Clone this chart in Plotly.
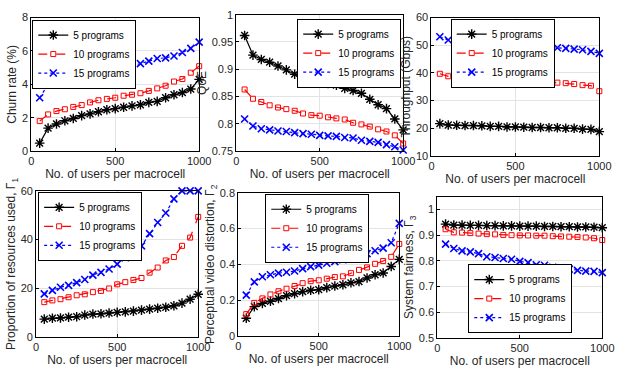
import plotly.graph_objects as go

# ---------------- data ----------------
users = [50, 100, 150, 200, 250, 300, 350, 400, 450, 500,
         550, 600, 650, 700, 750, 800, 850, 900, 950, 1000]
series_names = ["5 programs", "10 programs", "15 programs"]

churn_5 = [0.48, 1.38, 1.63, 1.82, 1.96, 2.13, 2.23, 2.36, 2.48, 2.55,
           2.63, 2.71, 2.78, 2.92, 2.98, 3.2, 3.38, 3.51, 3.72, 4.3]
churn_10 = [1.8, 2.2, 2.4, 2.51, 2.65, 2.76, 2.92, 3.05, 3.13, 3.2,
            3.32, 3.38, 3.47, 3.61, 3.76, 3.92, 4.17, 4.32, 4.7, 5.09]
churn_15 = [3.2, 3.99, 4.28, 4.4, 4.53, 4.57, 4.63, 4.74, 4.84, 4.91,
            5.05, 5.14, 5.24, 5.39, 5.55, 5.59, 5.7, 5.91, 6.16, 6.53]

qoe_5 = [0.962, 0.926, 0.918, 0.913, 0.906, 0.899, 0.891, 0.887, 0.883, 0.879,
         0.874, 0.871, 0.865, 0.861, 0.856, 0.845, 0.835, 0.828, 0.809, 0.789]
qoe_10 = [0.863, 0.846, 0.840, 0.834, 0.830, 0.827, 0.824, 0.819, 0.816, 0.815,
          0.812, 0.810, 0.808, 0.802, 0.799, 0.795, 0.790, 0.786, 0.779, 0.764]
qoe_15 = [0.809, 0.796, 0.791, 0.789, 0.787, 0.786, 0.784, 0.782, 0.781, 0.779,
          0.778, 0.777, 0.775, 0.774, 0.770, 0.768, 0.766, 0.762, 0.758, 0.752]

thr_5 = [21.7, 21.2, 21.1, 21.0, 21.0, 20.9, 20.7, 20.7, 20.5, 20.5,
         20.4, 20.3, 20.3, 20.2, 20.2, 20.0, 20.0, 19.7, 19.6, 18.8]
thr_10 = [39.7, 38.8, 38.6, 38.3, 38.1, 37.8, 37.6, 37.5, 37.4, 37.2,
          37.2, 37.0, 36.8, 36.7, 36.5, 36.3, 36.0, 35.6, 35.4, 33.4]
thr_15 = [53.1, 51.9, 51.2, 50.7, 50.4, 50.1, 49.9, 49.7, 49.5, 49.4,
          49.3, 49.2, 49.2, 49.2, 49.1, 48.9, 48.6, 48.4, 47.8, 47.1]

res_5 = [7.3, 7.7, 7.8, 8.1, 8.3, 9.0, 9.4, 9.5, 9.8, 10.1,
         10.3, 10.6, 11.0, 11.4, 11.8, 12.2, 12.8, 13.9, 15.5, 17.5]
res_10 = [14.3, 15.0, 15.5, 16.3, 17.1, 17.5, 18.4, 18.9, 19.9, 21.6,
          22.5, 23.4, 24.2, 26.4, 28.5, 31.4, 32.8, 37.4, 40.8, 49.3]
res_15 = [17.7, 19.1, 20.4, 21.2, 22.3, 23.6, 25.4, 26.5, 27.9, 29.9,
          32.5, 35.4, 37.4, 42.4, 47.0, 50.9, 56.7, 60.0, 60.0, 60.0]

dist_5 = [0.099, 0.164, 0.182, 0.194, 0.209, 0.225, 0.236, 0.248, 0.255, 0.259,
          0.270, 0.279, 0.286, 0.297, 0.304, 0.324, 0.342, 0.352, 0.388, 0.428]
dist_10 = [0.122, 0.185, 0.210, 0.232, 0.250, 0.264, 0.279, 0.295, 0.306, 0.311,
           0.320, 0.329, 0.333, 0.351, 0.369, 0.383, 0.403, 0.419, 0.442, 0.514]
dist_15 = [0.228, 0.302, 0.331, 0.342, 0.351, 0.356, 0.363, 0.376, 0.387, 0.396,
           0.406, 0.415, 0.426, 0.437, 0.449, 0.460, 0.476, 0.491, 0.521, 0.629]

fair_5 = [0.943, 0.939, 0.939, 0.938, 0.938, 0.937, 0.937, 0.936, 0.936, 0.935,
          0.935, 0.935, 0.934, 0.934, 0.933, 0.933, 0.932, 0.932, 0.931, 0.929]
fair_10 = [0.923, 0.911, 0.910, 0.908, 0.906, 0.904, 0.903, 0.901, 0.900, 0.899,
           0.899, 0.898, 0.898, 0.896, 0.895, 0.894, 0.893, 0.891, 0.888, 0.881]
fair_15 = [0.865, 0.848, 0.839, 0.835, 0.828, 0.816, 0.813, 0.809, 0.806, 0.798,
           0.793, 0.785, 0.783, 0.775, 0.773, 0.768, 0.763, 0.760, 0.759, 0.754]

x_label = "No. of users per macrocell"
y_labels = ["Churn rate (%)", "QoE", "Throughput (Gbps)",
            "Proportion of resources used, Γ<sub>1</sub>",
            "Perceptual video distortion, Γ<sub>2</sub>",
            "System fairness, Γ<sub>3</sub>"]
panel_data = [
    (churn_5, churn_10, churn_15),
    (qoe_5, qoe_10, qoe_15),
    (thr_5, thr_10, thr_15),
    (res_5, res_10, res_15),
    (dist_5, dist_10, dist_15),
    (fair_5, fair_10, fair_15),
]
y_ranges = [[0, 8], [0.75, 1], [10, 60], [0, 60], [0, 0.8], [0.5, 1.05]]
y_dticks = [2, 0.05, 10, 20, 0.2, 0.1]
y_tick0 = [0, 0.75, 10, 0, 0, 0.5]

# ---------------- layout config ----------------
W, H = 625, 371
# plot boxes in pixels: (left, right, top, bottom)
boxes = [(29, 201, 12, 150), (239, 410, 9, 150), (439, 611, 12, 155),
         (34, 200, 191, 342), (241, 406, 193, 341), (445, 614, 197, 343)]
# legend placement: (x_px, y_px, xanchor, yanchor)
legend_pos = [(30, 14, "left", "top"), (408, 13, "right", "top"),
              (512, 13, "center", "top"), (36, 192, "left", "top"),
              (322, 194, "center", "top"), (530, 338, "center", "bottom")]

colors = ["black", "red", "blue"]
dashes = ["solid", "dash", "dot"]
symbols = ["asterisk-open", "square-open", "x-thin-open"]
msizes = [8, 5, 7]
mwidths = [1.4, 1.0, 1.6]

FONT = "Liberation Sans, Arial, Helvetica, sans-serif"
TXT = "#262626"

fig = go.Figure()
layout = dict(
    width=W, height=H,
    margin=dict(l=0, r=0, t=0, b=0),
    paper_bgcolor="white", plot_bgcolor="white",
    font=dict(family=FONT, size=11, color=TXT),
)

for i, (ys, ylab, yr, dt, t0, box, lp) in enumerate(
        zip(panel_data, y_labels, y_ranges, y_dticks, y_tick0, boxes, legend_pos)):
    n = i + 1
    xa = "x" if n == 1 else f"x{n}"
    ya = "y" if n == 1 else f"y{n}"
    lg = "legend" if n == 1 else f"legend{n}"
    for k, (yv, name) in enumerate(zip(ys, series_names)):
        fig.add_trace(go.Scatter(
            x=users, y=yv, name=name, mode="lines+markers",
            xaxis=xa, yaxis=ya, legend=lg, cliponaxis=False,
            line=dict(color=colors[k], dash=dashes[k], width=1.2),
            marker=dict(symbol=symbols[k], size=msizes[k], color=colors[k],
                        line=dict(color=colors[k], width=mwidths[k])),
        ))
    l, r, t, b = box
    axis_common = dict(
        showline=True, linecolor="black", linewidth=1, mirror=True,
        ticks="inside", ticklen=3, tickcolor="black",
        showgrid=True, gridcolor="#e3e3e3", gridwidth=1,
        zeroline=False, tickfont=dict(size=11, color=TXT),
    )
    xkey = "xaxis" if n == 1 else f"xaxis{n}"
    ykey = "yaxis" if n == 1 else f"yaxis{n}"
    layout[xkey] = dict(
        axis_common, domain=[l / W, r / W], anchor=ya,
        range=[0, 1000], tick0=0, dtick=500,
        title=dict(text=x_label, font=dict(size=12, color=TXT), standoff=2),
    )
    layout[ykey] = dict(
        axis_common, domain=[1 - b / H, 1 - t / H], anchor=xa,
        range=yr, tick0=t0, dtick=dt,
        title=dict(text=ylab, font=dict(size=12, color=TXT), standoff=2),
    )
    lx, ly, xan, yan = lp
    layout[lg] = dict(
        x=lx / W, y=1 - ly / H, xanchor=xan, yanchor=yan,
        xref="paper", yref="paper",
        bgcolor="white", bordercolor="black", borderwidth=1,
        font=dict(size=10, color="black"),
        itemwidth=30, tracegroupgap=0,
    )

fig.update_layout(**layout)
fig.write_html("out.html")
